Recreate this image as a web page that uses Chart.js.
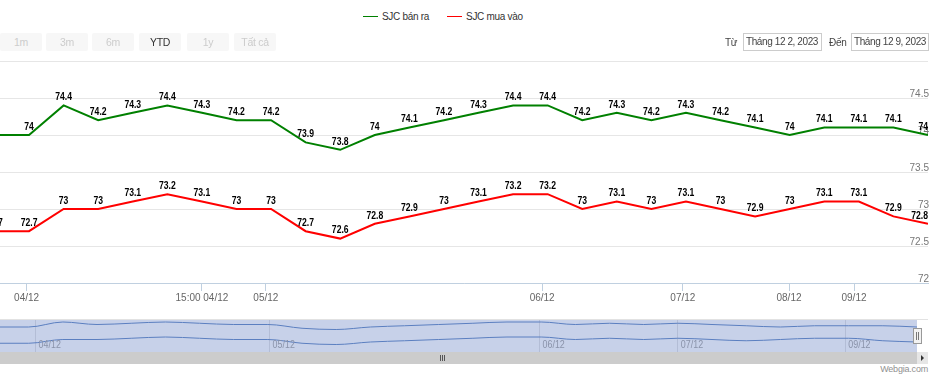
<!DOCTYPE html>
<html>
<head>
<meta charset="utf-8">
<script src="https://cdn.jsdelivr.net/npm/chart.js@4.4.1/dist/chart.umd.min.js"></script>
<style>
body { margin: 0; width: 942px; height: 383px; position: relative; overflow: hidden; background: #fff;
       font-family: "Liberation Sans", Arial, sans-serif; }
#main { position: absolute; left: 0; top: 0; }
#nav { position: absolute; left: 0; top: 320px; background: #c7d1e9; }
#legend { position: absolute; left: 363px; top: 11px; font-size: 10px; letter-spacing: -0.3px; color: #333; white-space: nowrap; }
#legend span.item { display: inline-block; margin-right: 18px; }
#legend span.sym { display: inline-block; width: 15px; height: 0; border-top: 1px solid; vertical-align: middle; margin-right: 4px; position: relative; top: -1px; }
.btn { position: absolute; top: 33px; height: 18px; width: 42px; background: #f7f7f7; border-radius: 2px;
       font-size: 10.5px; letter-spacing: -0.3px; line-height: 18px; text-align: center; color: #cccccc; }
.btn.on { color: #333; }
.lbl { position: absolute; top: 37px; font-size: 10px; letter-spacing: -0.3px; color: #444; white-space: nowrap; }
.inp { position: absolute; top: 33px; height: 16px; border: 1px solid #ccc; font-size: 10px; letter-spacing: -0.4px; line-height: 16px;
       color: #444; padding-left: 2px; white-space: nowrap; overflow: hidden; }
#navtop { position: absolute; left: 0; top: 319px; width: 928px; height: 1px; background: #e2e2e2; }
#scroll { position: absolute; left: 0; top: 352px; width: 917px; height: 12px; background: #cccccc; }
#grip { position: absolute; left: 440px; top: 355px; width: 6px; height: 6px;
        background: repeating-linear-gradient(90deg, #555 0 1px, #ccc 1px 2px); }
#arrow { position: absolute; left: 917px; top: 352px; width: 11px; height: 12px; background: #e6e6e6; }
#arrow:after { content: ""; position: absolute; left: 4px; top: 3px; border-left: 3px solid #333;
               border-top: 3px solid transparent; border-bottom: 3px solid transparent; }
#handle { position: absolute; left: 913px; top: 328px; width: 7px; height: 14px; background: #f2f2f2; border: 1px solid #999; }
#handle:after { content: ""; position: absolute; left: 2px; top: 3px; width: 3px; height: 8px;
                border-left: 1px solid #777; border-right: 1px solid #777; box-sizing: border-box; }
#credit { position: absolute; right: 14px; top: 364px; font-size: 9px; letter-spacing: -0.2px; color: #909090; }
</style>
</head>
<body>
<div id="legend"></div>
<canvas id="main" width="942" height="310"></canvas>
<div id="navtop"></div>
<canvas id="nav" width="917" height="32"></canvas>
<div id="handle"></div>
<div id="scroll"></div>
<div id="grip"></div>
<div id="arrow"></div>
<div id="credit">Webgia.com</div>

<div class="btn" style="left:0px">1m</div>
<div class="btn" style="left:46px">3m</div>
<div class="btn" style="left:92px">6m</div>
<div class="btn on" style="left:139px">YTD</div>
<div class="btn" style="left:187px">1y</div>
<div class="btn" style="left:234px">Tất cả</div>
<div class="lbl" style="left:725px">Từ</div>
<div class="inp" style="left:743px;width:75px">Tháng 12 2, 2023</div>
<div class="lbl" style="left:829px">Đến</div>
<div class="inp" style="left:851px;width:74px">Tháng 12 9, 2023</div>

<script>
var seriesNames = ['SJC bán ra', 'SJC mua vào'];
var seriesColors = ['#008000', '#ff0000'];

var banRa = [74, 74, 74.4, 74.2, 74.3, 74.4, 74.3, 74.2, 74.2, 73.9, 73.8, 74, 74.1, 74.2,
             74.3, 74.4, 74.4, 74.2, 74.3, 74.2, 74.3, 74.2, 74.1, 74, 74.1, 74.1, 74.1, 74];
var muaVao = [72.7, 72.7, 73, 73, 73.1, 73.2, 73.1, 73, 73, 72.7, 72.6, 72.8, 72.9, 73,
              73.1, 73.2, 73.2, 73, 73.1, 73, 73.1, 73, 72.9, 73, 73.1, 73.1, 72.9, 72.8];

// x axis ticks (position in point index units) and their labels
var tickAt = [0.93, 6, 7.85, 15.84, 19.91, 22.98, 24.86];
var tickLabels = ['04/12', '15:00 04/12', '05/12', '06/12', '07/12', '08/12', '09/12'];
var navTickAt = [1.2, 8.05, 15.95, 20, 24.9];
var navTickLabels = ['04/12', '05/12', '06/12', '07/12', '09/12'];

function toPoints(arr) {
  return arr.map(function (v, i) { return { x: i, y: v }; });
}

var font = '"Liberation Sans", Arial, sans-serif';
Chart.defaults.font.family = font;

// the reference text is narrow, squeeze canvas labels a bit
function narrowText(ctx, text, x, y, sx) {
  ctx.save();
  ctx.translate(x, y);
  ctx.scale(sx, 1);
  ctx.fillText(text, 0, 0);
  ctx.restore();
}

var valueLabels = {
  id: 'valueLabels',
  afterDatasetsDraw: function (chart) {
    var ctx = chart.ctx, area = chart.chartArea, sx = 0.82;
    ctx.save();
    ctx.font = 'bold 10.5px ' + font;
    ctx.fillStyle = '#000';
    ctx.textAlign = 'center';
    ctx.textBaseline = 'middle';
    chart.data.datasets.forEach(function (ds, i) {
      chart.getDatasetMeta(i).data.forEach(function (pt, j) {
        var txt = String(ds.data[j].y);
        var half = ctx.measureText(txt).width * sx / 2;
        var x = pt.x;
        if (x <= area.right && x + half > area.right) x = area.right - half;
        narrowText(ctx, txt, x, pt.y - 8, sx);
      });
    });
    ctx.restore();
  }
};

// navigator date labels, drawn inside the navigator at the x scale's tick pixels
var navLabels = {
  id: 'navLabels',
  afterDraw: function (chart) {
    var ctx = chart.ctx, xs = chart.scales.x;
    ctx.save();
    ctx.font = '10.5px ' + font;
    ctx.fillStyle = '#8a93aa';
    ctx.textAlign = 'left';
    ctx.textBaseline = 'middle';
    navTickAt.forEach(function (v, i) {
      narrowText(ctx, navTickLabels[i], xs.getPixelForValue(v) + 3, 25, 0.85);
    });
    ctx.restore();
  }
};

var mainChart = new Chart(document.getElementById('main'), {
  type: 'line',
  data: {
    datasets: [
      { label: seriesNames[0], data: toPoints(banRa), borderColor: seriesColors[0], borderWidth: 2, pointRadius: 0, tension: 0 },
      { label: seriesNames[1], data: toPoints(muaVao), borderColor: seriesColors[1], borderWidth: 2, pointRadius: 0, tension: 0 }
    ]
  },
  options: {
    responsive: false,
    animation: false,
    layout: { padding: { top: 61, bottom: 3, left: 0, right: 0 } },
    plugins: { legend: { display: false }, tooltip: { enabled: false } },
    scales: {
      x: {
        type: 'linear',
        min: 0.16,
        max: 27,
        afterBuildTicks: function (scale) {
          scale.ticks = tickAt.map(function (v) { return { value: v }; });
        },
        afterFit: function (scale) { scale.height = 24; },
        grid: { drawOnChartArea: false, drawTicks: true, tickLength: 8, color: '#C0D0E0' },
        border: { color: '#C0D0E0' },
        ticks: {
          autoSkip: false, maxRotation: 0, padding: 1, color: '#666', font: { size: 10 },
          callback: function (v, i) { return tickLabels[i]; }
        }
      },
      y: {
        position: 'right',
        min: 72,
        max: 75,
        afterFit: function (scale) { scale.width = 14; },
        grid: { color: '#e6e6e6', drawTicks: false },
        border: { display: false },
        ticks: {
          stepSize: 0.5, mirror: true, padding: 1, labelOffset: -4, color: '#777', font: { size: 10 },
          callback: function (v) { return v === 75 ? '' : String(v); }
        }
      }
    }
  },
  plugins: [valueLabels]
});

// legend built from the chart's datasets
var legendEl = document.getElementById('legend');
mainChart.data.datasets.forEach(function (ds) {
  var item = document.createElement('span');
  item.className = 'item';
  var sym = document.createElement('span');
  sym.className = 'sym';
  sym.style.borderTopColor = ds.borderColor;
  item.appendChild(sym);
  item.appendChild(document.createTextNode(ds.label));
  legendEl.appendChild(item);
});

new Chart(document.getElementById('nav'), {
  type: 'line',
  data: {
    datasets: [
      { data: toPoints(banRa), borderColor: '#5b7fc0', borderWidth: 1, pointRadius: 0, cubicInterpolationMode: 'monotone' },
      { data: toPoints(muaVao), borderColor: '#5b7fc0', borderWidth: 1, pointRadius: 0, cubicInterpolationMode: 'monotone' }
    ]
  },
  options: {
    responsive: false,
    animation: false,
    layout: { padding: 0 },
    plugins: { legend: { display: false }, tooltip: { enabled: false } },
    scales: {
      x: {
        type: 'linear',
        min: 0.16,
        max: 27,
        afterBuildTicks: function (scale) {
          scale.ticks = navTickAt.map(function (v) { return { value: v }; });
        },
        afterFit: function (scale) { scale.height = 0; },
        grid: { drawOnChartArea: true, drawTicks: false, color: '#b3bdd6' },
        border: { display: false },
        ticks: { display: false }
      },
      y: { display: false, min: 72, max: 74.56 }
    }
  },
  plugins: [navLabels]
});
</script>
</body>
</html>
